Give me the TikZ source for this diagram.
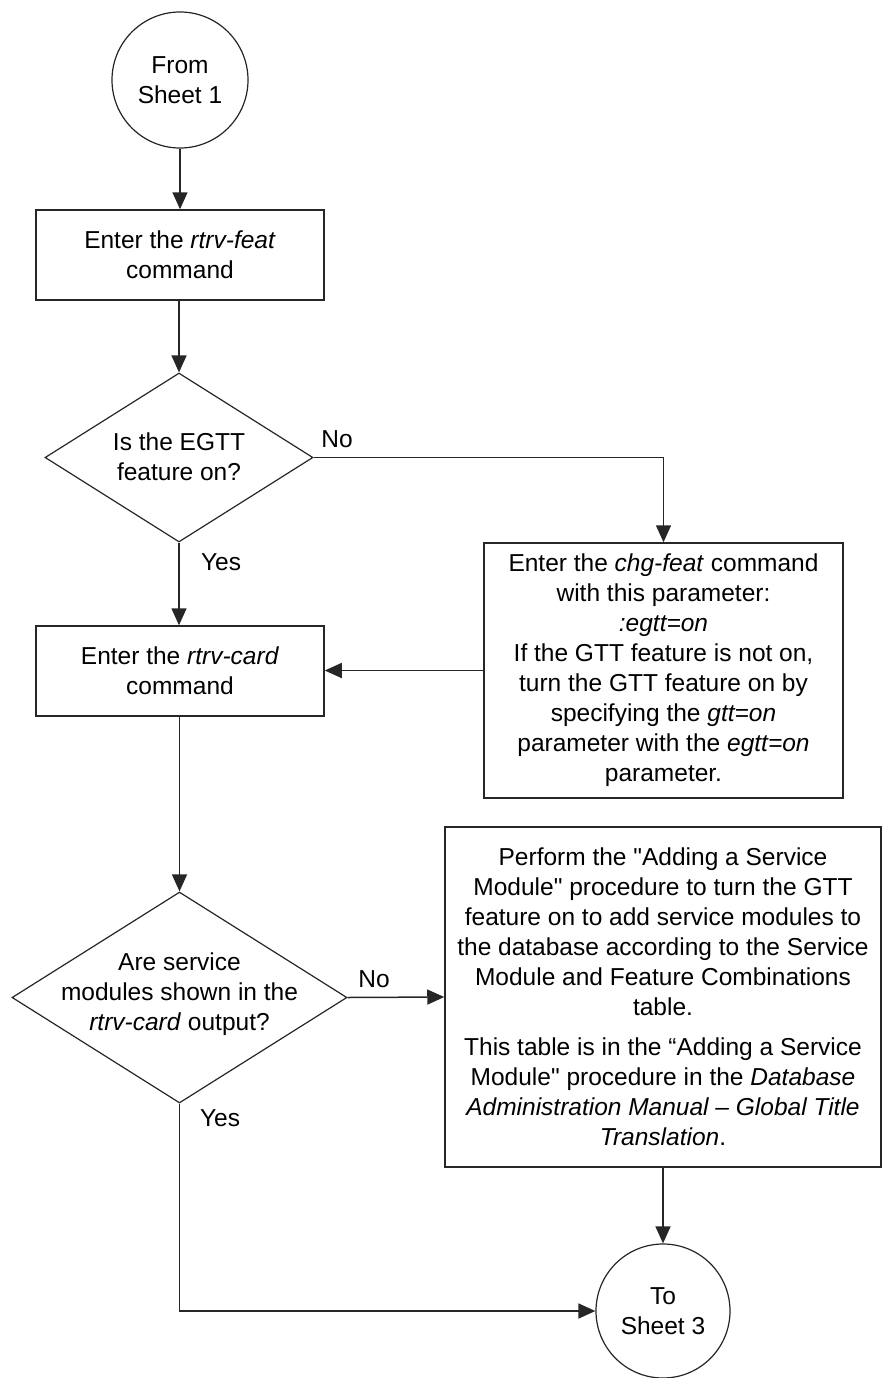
\documentclass[tikz,border=0pt]{standalone}
\usepackage{fontspec}
\setmainfont{Liberation Sans}[Ligatures=TeXOff]
\usetikzlibrary{shapes.geometric,arrows.meta}
\begin{document}
\begin{tikzpicture}[x=1pt,y=-1pt,
  every node/.style={font=\fontsize{24.5}{30}\selectfont, align=center, inner sep=0pt},
  line/.style={line width=1.5pt, draw=black!85},
  arr/.style={line, -{Triangle[length=17pt,width=15pt]}},
  boxnode/.style={draw=black!85, line width=1.5pt, rectangle},
  termnode/.style={draw=black!85, line width=1.2pt, circle},
  decnode/.style={draw=black!85, line width=1.2pt, diamond},
  lbl/.style={font=\fontsize{24.5}{30}\selectfont}
]
\useasboundingbox (0,0) rectangle (883,1378);

\node[termnode, minimum size=136pt] (c1) at (180,80) {From\\Sheet 1};
\node[boxnode, minimum width=288pt, minimum height=90pt] (b1) at (180,255) {Enter the \textit{rtrv-feat}\\command};
\node[decnode, minimum width=268pt, minimum height=169pt] (d1) at (179,457.5) {};
\node (d1t) at (179,457) {Is the EGTT\\feature on?};
\node[boxnode, minimum width=359pt, minimum height=255pt] (b2) at (663.5,670.5) {Enter the \textit{chg-feat} command\\with this parameter:\\\textit{:egtt=on}\\If the GTT feature is not on,\\turn the GTT feature on by\\specifying the \textit{gtt=on}\\parameter with the \textit{egtt=on}\\parameter.};
\node[boxnode, minimum width=288pt, minimum height=90pt] (b3) at (180,671) {Enter the \textit{rtrv-card}\\command};
\node[decnode, minimum width=335pt, minimum height=211pt] (d2) at (179.5,997.5) {};
\node (d2t) at (179.5,994) {Are service\\modules shown in the\\\textit{rtrv-card} output?};
\node[boxnode, minimum width=436pt, minimum height=340pt] (b4) at (663,997) {Perform the "Adding a Service\\Module" procedure to turn the GTT\\feature on to add service modules to\\the database according to the Service\\Module and Feature Combinations\\table.\\[10pt]This table is in the “Adding a Service\\Module" procedure in the \textit{Database}\\\textit{Administration Manual – Global Title}\\\textit{Translation}.};
\node[termnode, minimum size=134pt] (c2) at (663,1311) {To\\Sheet 3};

\node[lbl] (no1) at (337,439) {No};
\node[lbl] (yes1) at (221,562) {Yes};
\node[lbl] (no2) at (374,979) {No};
\node[lbl] (yes2) at (220,1118) {Yes};

\draw[arr] (c1.south) -- (b1.north);
\draw[arr] (b1.south -| d1.north) -- (d1.north);
\draw[arr] (d1.south) -- (d1.south |- b3.north);
\draw[arr] (d1.east) -| (b2.north);
\draw[arr] (b2.west) -- (b2.west -| b3.east);
\draw[arr] (b3.south -| d2.north) -- (d2.north);
\draw[arr] (d2.east) -- (b4.west);
\draw[arr] (d2.south) |- (c2.west);
\draw[arr] (b4.south) -- (c2.north);
\end{tikzpicture}
\end{document}
